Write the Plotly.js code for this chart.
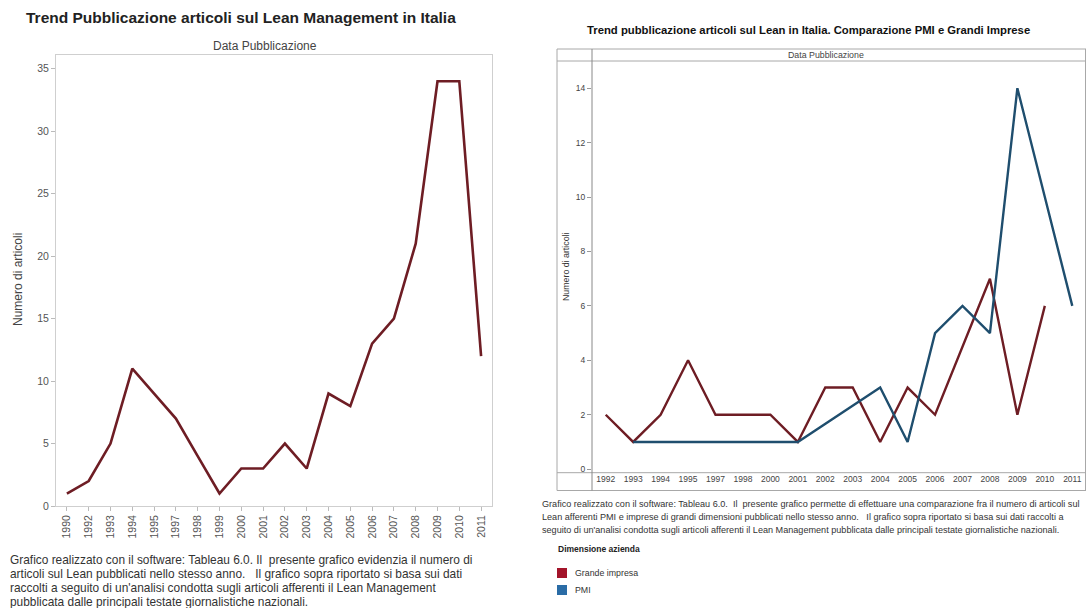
<!DOCTYPE html>
<html>
<head>
<meta charset="utf-8">
<script src="https://cdn.plot.ly/plotly-3.0.1.min.js"></script>
<style>
html,body{margin:0;padding:0;background:#fff;}
#chart{width:1086px;height:608px;}
</style>
</head>
<body>
<div id="chart"></div>
<script>
// ---- Data (left chart) ----
const yearsAll = ['1990','1992','1993','1994','1995','1997','1998','1999','2000','2001','2002','2003','2004','2005','2006','2007','2008','2009','2010','2011'];
const articoliTotali = [1, 2, 5, 11, 9, 7, 4, 1, 3, 3, 5, 3, 9, 8, 13, 15, 21, 34, 34, 12];

// ---- Data (right chart) ----
const yearsCmp = ['1992','1993','1994','1995','1997','1998','2000','2001','2002','2003','2004','2005','2006','2007','2008','2009','2010','2011'];
const grandeImpresa = [2, 1, 2, 4, 2, 2, 2, 1, 3, 3, 1, 3, 2, null, 7, 2, 6, null];
const pmi = [null, 1, 1, 1, 1, 1, 1, 1, null, null, 3, 1, 5, 6, 5, 14, 10, 6];
const yTicksLeft = [0, 5, 10, 15, 20, 25, 30, 35];
const yTicksRight = [0, 2, 4, 6, 8, 10, 12, 14];

// ---- Texts ----
const titleLeft = 'Trend Pubblicazione articoli sul Lean Management in Italia';
const titleRight = 'Trend pubblicazione articoli sul Lean in Italia. Comparazione PMI e Grandi Imprese';
const headerText = 'Data Pubblicazione';
const yTitle = 'Numero di articoli';
const captionLeft = [
  'Grafico realizzato con il software: Tableau 6.0. Il  presente grafico evidenzia il numero di',
  'articoli sul Lean pubblicati nello stesso anno.   Il grafico sopra riportato si basa sui dati',
  "raccolti a seguito di un'analisi condotta sugli articoli afferenti il Lean Management",
  'pubblicata dalle principali testate giornalistiche nazionali.'
];
const captionRight = [
  'Grafico realizzato con il software: Tableau 6.0.  Il  presente grafico permette di effettuare una comparazione fra il numero di articoli sul',
  'Lean afferenti PMI e imprese di grandi dimensioni pubblicati nello stesso anno.   Il grafico sopra riportato si basa sui dati raccolti a',
  "seguito di un'analisi condotta sugli articoli afferenti il Lean Management pubblicata dalle principali testate giornalistiche nazionali."
];
const legendTitle = 'Dimensione azienda';
const legendNames = ['Grande impresa', 'PMI'];

// ---- Styles ----
const W = 1086, H = 608;
const px = x => x / W;
const py = y => 1 - y / H;
const FONT = 'Arial, "Liberation Sans", sans-serif';
const colRed = '#6e1d24';
const colBlue = '#1f4e6e';
const swRed = '#a3142a';
const swBlue = '#2a6ca6';

const traces = [
  {x: yearsAll, y: articoliTotali, xaxis: 'x', yaxis: 'y', type: 'scatter', mode: 'lines',
   line: {color: colRed, width: 2.6}, hoverinfo: 'x+y', showlegend: false},
  {x: yearsCmp, y: grandeImpresa, xaxis: 'x2', yaxis: 'y2', type: 'scatter', mode: 'lines',
   connectgaps: true, line: {color: colRed, width: 2.4}, name: legendNames[0], showlegend: false},
  {x: yearsCmp, y: pmi, xaxis: 'x2', yaxis: 'y2', type: 'scatter', mode: 'lines',
   connectgaps: true, line: {color: colBlue, width: 2.4}, name: legendNames[1], showlegend: false}
];

const ann = [];
function txt(text, x, y, opts) {
  ann.push(Object.assign({text: text, x: px(x), y: py(y), xref: 'paper', yref: 'paper',
    showarrow: false, xanchor: 'left', yanchor: 'middle',
    font: {family: FONT, size: 10, color: '#333'}}, opts || {}));
}
txt(titleLeft, 24, 18, {font: {family: FONT, size: 15.5, color: '#222', weight: 'bold'}});
txt(headerText, 265, 46, {xanchor: 'center', font: {family: FONT, size: 12, color: '#444'}});
txt(yTitle, 18, 280, {xanchor: 'center', textangle: -90, font: {family: FONT, size: 12, color: '#444'}});
captionLeft.forEach((l, i) => txt(l, 8, 560 + i * 14, {font: {family: FONT, size: 11.9, color: '#333'}}));

txt(titleRight, 808, 30, {xanchor: 'center', font: {family: FONT, size: 11.3, color: '#111', weight: 'bold'}});
txt(headerText, 826, 55, {xanchor: 'center', font: {family: FONT, size: 8.8, color: '#444'}});
txt(yTitle, 566, 267, {xanchor: 'center', textangle: -90, font: {family: FONT, size: 8.8, color: '#333'}});
captionRight.forEach((l, i) => txt(l, 540, 504 + i * 13.2, {font: {family: FONT, size: 9.1, color: '#333'}}));
txt(legendTitle, 556, 549, {font: {family: FONT, size: 8.5, color: '#222', weight: 'bold'}});
txt(legendNames[0], 573, 573, {font: {family: FONT, size: 8.8, color: '#333'}});
txt(legendNames[1], 573, 590, {font: {family: FONT, size: 8.8, color: '#333'}});

const lineCol = '#a8a8a8';
function ln(x0, y0, x1, y1, c, w) {
  return {type: 'line', xref: 'paper', yref: 'paper', x0: px(x0), y0: py(y0), x1: px(x1), y1: py(y1),
    line: {color: c || lineCol, width: w || 1}};
}
const shapes = [
  ln(557, 49, 1086, 49),
  ln(557, 61, 1086, 61),
  ln(557, 472.7, 1086, 472.7),
  ln(557, 490.5, 1086, 490.5),
  ln(557, 49, 557, 490.5),
  ln(592, 49, 592, 490.5, '#888'),
  ln(1085.5, 49, 1085.5, 490.5),
  {type: 'rect', xref: 'paper', yref: 'paper', x0: px(557), x1: px(567), y0: py(568), y1: py(578),
   fillcolor: swRed, line: {width: 0}},
  {type: 'rect', xref: 'paper', yref: 'paper', x0: px(557), x1: px(567), y0: py(585), y1: py(595),
   fillcolor: swBlue, line: {width: 0}}
];

const layout = {
  width: W, height: H,
  margin: {l: 0, r: 0, t: 0, b: 0, pad: 0},
  paper_bgcolor: '#fff', plot_bgcolor: '#fff',
  showlegend: false,
  font: {family: FONT, color: '#444'},
  xaxis: {domain: [px(56), px(492)], anchor: 'y', type: 'category',
    categoryorder: 'array', categoryarray: yearsAll, range: [-0.5, yearsAll.length - 0.5],
    tickangle: -90, tickfont: {family: FONT, size: 10.5, color: '#555'},
    ticks: 'outside', ticklen: 4, tickcolor: '#bbb',
    showline: true, linecolor: '#cfcfcf', mirror: true, showgrid: false, zeroline: false},
  yaxis: {domain: [py(506), py(55)], anchor: 'x', range: [0, 36.1],
    tickvals: yTicksLeft, tickfont: {family: FONT, size: 10.5, color: '#555'},
    ticks: 'outside', ticklen: 4, tickcolor: '#bbb',
    showline: true, linecolor: '#cfcfcf', mirror: true, showgrid: false, zeroline: false},
  xaxis2: {domain: [px(592), px(1086)], anchor: 'y2', type: 'category',
    categoryorder: 'array', categoryarray: yearsCmp, range: [-0.5, yearsCmp.length - 0.5],
    tickangle: 0, tickfont: {family: FONT, size: 8.5, color: '#444'},
    ticks: '', showline: false, showgrid: false, zeroline: false},
  yaxis2: {domain: [py(472.7), py(61)], anchor: 'x2', range: [-0.13, 15],
    tickvals: yTicksRight, tickfont: {family: FONT, size: 8.5, color: '#444'},
    ticks: 'outside', ticklen: 4, tickcolor: '#999',
    showline: false, showgrid: false, zeroline: false},
  annotations: ann,
  shapes: shapes
};

Plotly.newPlot('chart', traces, layout, {displayModeBar: false, staticPlot: true});
</script>
</body>
</html>
